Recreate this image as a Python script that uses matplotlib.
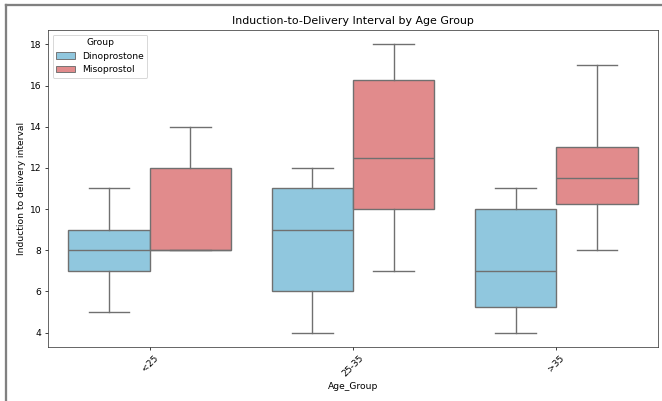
import matplotlib
matplotlib.use("Agg")
import matplotlib.pyplot as plt
from matplotlib.patches import Patch
from matplotlib.lines import Line2D
import numpy as np

age_groups = ['<25', '25-35', '>35']
groups = ['Dinoprostone', 'Misoprostol']

dino_whislo = [5, 4, 4]
dino_q1 = [7, 6, 5.25]
dino_med = [8, 9, 7]
dino_q3 = [9, 11, 10]
dino_whishi = [11, 12, 11]

miso_whislo = [8, 7, 8]
miso_q1 = [8, 10, 10.25]
miso_med = [8, 12.5, 11.5]
miso_q3 = [12, 16.25, 13]
miso_whishi = [14, 18, 17]

colors = ['#90C7DE', '#E18B8C']
line_color = '#707070'

W, H, DPI = 662, 401, 66.2
fig = plt.figure(figsize=(W / DPI, H / DPI), dpi=DPI)
ax = fig.add_axes([48 / W, 1 - 347 / H, (658 - 48) / W, (347 - 30) / H])

series = [
    (dino_whislo, dino_q1, dino_med, dino_q3, dino_whishi),
    (miso_whislo, miso_q1, miso_med, miso_q3, miso_whishi),
]
width = 0.4
for gi, (lo, q1, med, q3, hi) in enumerate(series):
    stats = []
    for i in range(len(age_groups)):
        stats.append(dict(whislo=lo[i], q1=q1[i], med=med[i], q3=q3[i],
                          whishi=hi[i], fliers=[], label=age_groups[i]))
    positions = np.arange(len(age_groups)) + (gi - 0.5) * width
    ax.bxp(stats, positions=positions, widths=width, patch_artist=True,
           showfliers=False, manage_ticks=False,
           boxprops=dict(facecolor=colors[gi], edgecolor=line_color, linewidth=1.5),
           medianprops=dict(color=line_color, linewidth=1.5),
           whiskerprops=dict(color=line_color, linewidth=1.5),
           capprops=dict(color=line_color, linewidth=1.5),
           capwidths=width / 2)

ax.set_xlim(-0.5, len(age_groups) - 0.5)
ax.set_ylim(3.3, 18.7)
ax.set_xticks(np.arange(len(age_groups)))
ax.set_xticklabels(age_groups, rotation=45)
ax.set_yticks([4, 6, 8, 10, 12, 14, 16, 18])
ax.set_xlabel('Age_Group')
ax.set_ylabel('Induction to delivery interval')
ax.set_title('Induction-to-Delivery Interval by Age Group')
for s in ax.spines.values():
    s.set_color('#333333')

handles = [Patch(facecolor=colors[i], edgecolor=line_color, label=groups[i]) for i in range(2)]
ax.legend(handles=handles, title='Group', loc='upper left')

# screenshot frame
fig.add_artist(Line2D([6 / W, 6 / W], [0, 1 - 5 / H], transform=fig.transFigure,
                      color='#808080', linewidth=2.5))
fig.add_artist(Line2D([6 / W, 1], [1 - 5 / H, 1 - 5 / H], transform=fig.transFigure,
                      color='#808080', linewidth=2.5))

fig.savefig('out.png', dpi=DPI)
